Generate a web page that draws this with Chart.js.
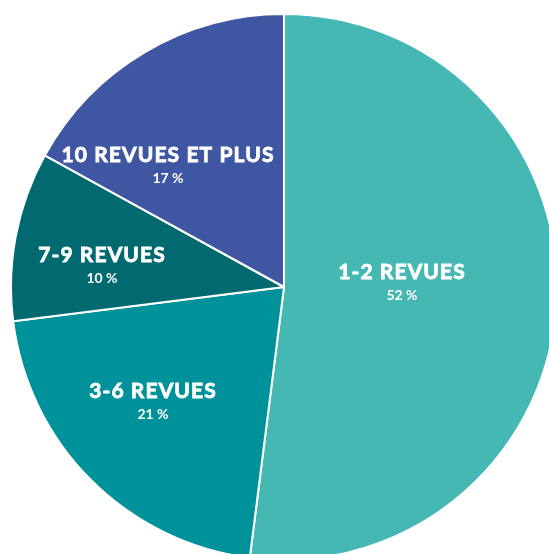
<!DOCTYPE html>
<html>
<head>
<meta charset="utf-8">
<script src="https://cdn.jsdelivr.net/npm/chart.js@4"></script>
<style>
  html, body { margin: 0; padding: 0; background: #fff; overflow: hidden; }
  #wrap { position: absolute; left: 10px; top: 13px; width: 548px; height: 548px; }
</style>
</head>
<body>
<div id="wrap"><canvas id="revuesChart" width="548" height="548"></canvas></div>
<script>
// données du graphique
const categories = ['1-2 REVUES', '3-6 REVUES', '7-9 REVUES', '10 REVUES ET PLUS'];
const parts = [52, 21, 10, 17];
const couleurs = ['#45b8b4', '#00929a', '#006a70', '#3f56a3'];

// position des étiquettes (décalage depuis le centre du camembert)
const labelOffsets = [[118, -15], [-131, 104], [-182, -32], [-116, -132]];

const sliceLabels = {
    id: 'sliceLabels',
    afterDatasetsDraw(chart) {
        const ctx = chart.ctx;
        const meta = chart.getDatasetMeta(0);
        ctx.save();
        ctx.fillStyle = '#ffffff';
        ctx.strokeStyle = '#ffffff';
        ctx.textAlign = 'center';
        ctx.textBaseline = 'middle';
        meta.data.forEach(function (arc, i) {
            const x = arc.x + labelOffsets[i][0];
            const y = arc.y + labelOffsets[i][1];
            // titre un peu plus gras que le bold de Lato
            ctx.font = 'bold 21px Lato';
            ctx.letterSpacing = '1.1px';
            ctx.lineWidth = 0.8;
            ctx.fillText(categories[i], x, y);
            ctx.strokeText(categories[i], x, y);
            ctx.font = 'bold 14px Lato';
            ctx.letterSpacing = '0px';
            ctx.fillText(parts[i] + ' %', x, y + 23.5);
        });
        ctx.restore();
    }
};

new Chart(document.getElementById('revuesChart'), {
    type: 'pie',
    data: {
        labels: categories,
        datasets: [{
            data: parts,
            backgroundColor: couleurs,
            borderColor: '#ffffff',
            borderWidth: 2
        }]
    },
    options: {
        responsive: false,
        devicePixelRatio: 1,
        animation: false,
        layout: { padding: 0 },
        plugins: {
            legend: { display: false },
            tooltip: { enabled: false }
        }
    },
    plugins: [sliceLabels]
});
</script>
</body>
</html>
